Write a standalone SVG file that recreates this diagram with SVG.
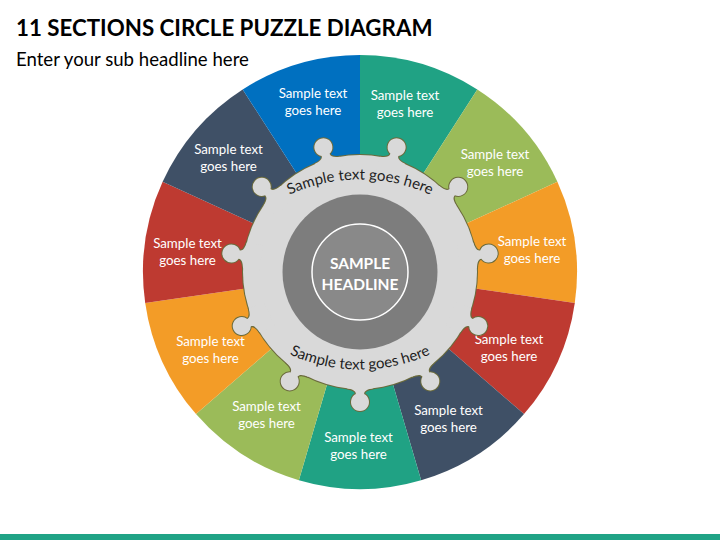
<svg xmlns="http://www.w3.org/2000/svg" xmlns:xlink="http://www.w3.org/1999/xlink" width="720" height="540" viewBox="0 0 720 540">
<style>
.title{font-family:Lato,"Open Sans","Liberation Sans",sans-serif;font-weight:700;font-size:22.3px;fill:#000}
.sub{font-family:Lato,"Open Sans","Liberation Sans",sans-serif;font-size:18.6px;fill:#000}
.st{font-family:Lato,"Open Sans","Liberation Sans",sans-serif;font-size:13.3px;fill:#fff;text-anchor:middle}
.arct{font-family:Lato,"Open Sans","Liberation Sans",sans-serif;font-size:15px;fill:#1e1e1e;text-anchor:middle}
.head{font-family:Lato,"Open Sans","Liberation Sans",sans-serif;font-weight:700;font-size:15.5px;fill:#fff;text-anchor:middle}
.teal{fill:#20A284}.green{fill:#9BBB59}.orange{fill:#F39C27}.red{fill:#BE3A31}.slate{fill:#3F5066}.blue{fill:#0070C0}
</style>
<defs>
  <path id="knob" d="M100,-13 L116.28,-13 C117.3,-8 118.5,-4.12 122,-4.12 A9,9 0 1 1 122,4.12 C118.5,4.12 117.3,8 116.28,13 L100,13 Z"/>
  <g id="puzzle">
    <circle cx="0" cy="0" r="117"/>
    <use xlink:href="#knob" transform="rotate(-73.636)"/>
    <use xlink:href="#knob" transform="rotate(-40.909)"/>
    <use xlink:href="#knob" transform="rotate(-8.182)"/>
    <use xlink:href="#knob" transform="rotate(24.545)"/>
    <use xlink:href="#knob" transform="rotate(57.273)"/>
    <use xlink:href="#knob" transform="rotate(90)"/>
    <use xlink:href="#knob" transform="rotate(122.727)"/>
    <use xlink:href="#knob" transform="rotate(155.455)"/>
    <use xlink:href="#knob" transform="rotate(188.182)"/>
    <use xlink:href="#knob" transform="rotate(220.909)"/>
    <use xlink:href="#knob" transform="rotate(253.636)"/>
  </g>
  <path id="arcTop" d="M260,212 A170,170 0 0 1 460,212"/>
  <path id="arcBot" d="M260,337 A170,170 0 0 0 460,337"/>
</defs>

<g id="header">
  <text class="title" x="16" y="36">11 SECTIONS CIRCLE PUZZLE DIAGRAM</text>
  <text class="sub" x="16" y="66">Enter your sub headline here</text>
</g>

<g id="section-1">
  <path class="teal" d="M360,272 L360,55 A217,217 0 0 1 477.32,89.45 Z"/>
  <text class="st" x="405" y="99.5">Sample text</text>
  <text class="st" x="405" y="116.5">goes here</text>
</g>
<g id="section-2">
  <path class="green" d="M360,272 L477.32,89.45 A217,217 0 0 1 557.39,181.85 Z"/>
  <text class="st" x="495" y="159">Sample text</text>
  <text class="st" x="495" y="176">goes here</text>
</g>
<g id="section-3">
  <path class="orange" d="M360,272 L557.39,181.85 A217,217 0 0 1 574.79,302.88 Z"/>
  <text class="st" x="532" y="245.5">Sample text</text>
  <text class="st" x="532" y="262.5">goes here</text>
</g>
<g id="section-4">
  <path class="red" d="M360,272 L574.79,302.88 A217,217 0 0 1 524,414.1 Z"/>
  <text class="st" x="509" y="344">Sample text</text>
  <text class="st" x="509" y="361">goes here</text>
</g>
<g id="section-5">
  <path class="slate" d="M360,272 L524,414.1 A217,217 0 0 1 421.14,480.21 Z"/>
  <text class="st" x="448.5" y="415">Sample text</text>
  <text class="st" x="448.5" y="432">goes here</text>
</g>
<g id="section-6">
  <path class="teal" d="M360,272 L421.14,480.21 A217,217 0 0 1 298.86,480.21 Z"/>
  <text class="st" x="358.5" y="441.5">Sample text</text>
  <text class="st" x="358.5" y="458.5">goes here</text>
</g>
<g id="section-7">
  <path class="green" d="M360,272 L298.86,480.21 A217,217 0 0 1 196,414.1 Z"/>
  <text class="st" x="266.5" y="410.5">Sample text</text>
  <text class="st" x="266.5" y="427.5">goes here</text>
</g>
<g id="section-8">
  <path class="orange" d="M360,272 L196,414.1 A217,217 0 0 1 145.21,302.88 Z"/>
  <text class="st" x="210.5" y="345.5">Sample text</text>
  <text class="st" x="210.5" y="362.5">goes here</text>
</g>
<g id="section-9">
  <path class="red" d="M360,272 L145.21,302.88 A217,217 0 0 1 162.61,181.85 Z"/>
  <text class="st" x="187.5" y="247.5">Sample text</text>
  <text class="st" x="187.5" y="264.5">goes here</text>
</g>
<g id="section-10">
  <path class="slate" d="M360,272 L162.61,181.85 A217,217 0 0 1 242.68,89.45 Z"/>
  <text class="st" x="228.5" y="153.5">Sample text</text>
  <text class="st" x="228.5" y="170.5">goes here</text>
</g>
<g id="section-11">
  <path class="blue" d="M360,272 L242.68,89.45 A217,217 0 0 1 360,55 Z"/>
  <text class="st" x="313" y="98">Sample text</text>
  <text class="st" x="313" y="115">goes here</text>
</g>

<g id="puzzle-ring">
  <use xlink:href="#puzzle" transform="translate(360 272)" fill="#6B6B3C" stroke="#6B6B3C" stroke-width="2"/>
  <use xlink:href="#puzzle" transform="translate(360 272)" fill="#D9D9D9"/>
  <text class="arct"><textPath xlink:href="#arcTop" startOffset="50%">Sample text goes here</textPath></text>
  <text class="arct"><textPath xlink:href="#arcBot" startOffset="50%">Sample text goes here</textPath></text>
</g>

<g id="center">
  <circle cx="360" cy="272" r="77.5" fill="#7D7D7D"/>
  <circle cx="360" cy="272" r="48" fill="#898989" stroke="#FFFFFF" stroke-width="1.5"/>
  <text class="head" x="360" y="268.5">SAMPLE</text>
  <text class="head" x="360" y="289.5">HEADLINE</text>
</g>

<g id="connectors"></g>

<rect id="footer-bar" x="0" y="534" width="720" height="6" fill="#20A386"/>
</svg>
